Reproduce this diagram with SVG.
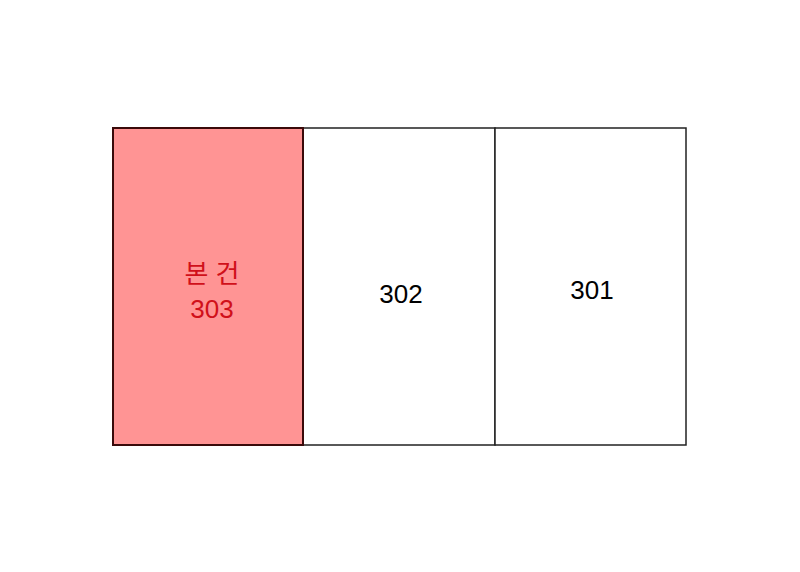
<svg xmlns="http://www.w3.org/2000/svg" width="800" height="572" viewBox="0 0 800 572">
<style>
.lot{stroke:#222;stroke-width:1.5;fill:#fff}
.lbl{font-family:"Liberation Sans","Noto Sans CJK KR",sans-serif;font-size:26px;text-anchor:middle}
</style>
<rect width="800" height="572" fill="#fff"/>
<g id="lot-302"><rect class="lot" x="303" y="128" width="192" height="317"/><text class="lbl" x="401" y="303" fill="#000">302</text></g>
<g id="lot-301"><rect class="lot" x="495" y="128" width="191" height="317"/><text class="lbl" x="592" y="299" fill="#000">301</text></g>
<g id="lot-303"><rect x="113" y="128" width="190" height="317" fill="#FF9494" stroke="#3a0a0a" stroke-width="2"/><text class="lbl" x="212" y="283" fill="#D0101A" font-family="'Noto Sans CJK KR',sans-serif" font-size="27">본 건</text><text class="lbl" x="212" y="318" fill="#D0101A">303</text></g>
</svg>
